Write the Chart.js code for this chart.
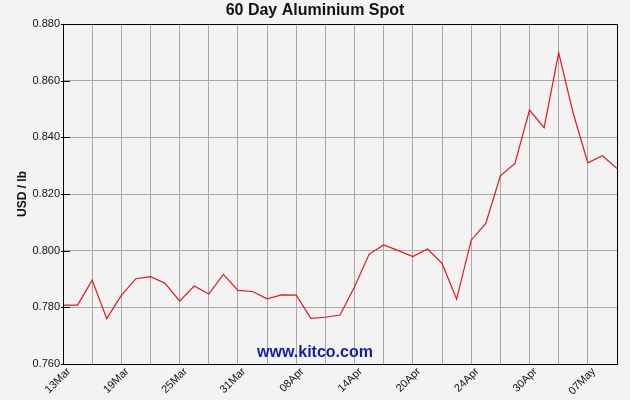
<!DOCTYPE html>
<html>
<head>
<meta charset="utf-8">
<script src="https://cdn.jsdelivr.net/npm/chart.js@4/dist/chart.umd.min.js"></script>
<style>
  html, body { margin: 0; padding: 0; background: #f4f3f3; }
  canvas { display: block; }
</style>
</head>
<body>
<canvas id="chart" width="630" height="400"></canvas>
<script>
// daily spot price, USD / lb (one point per trading day)
const prices = [
  0.7808, 0.7808, 0.7896, 0.7760, 0.7842, 0.7901, 0.7908, 0.7885, 0.7822, 0.7875,
  0.7847, 0.7916, 0.7860, 0.7856, 0.7830, 0.7844, 0.7843, 0.7761, 0.7765, 0.7773,
  0.7873, 0.7988, 0.8020, 0.8000, 0.7979, 0.8006, 0.7955, 0.7829, 0.8037, 0.8096,
  0.8264, 0.8308, 0.8496, 0.8434, 0.8698, 0.8484, 0.8310, 0.8335, 0.8290
];
// date labels, one every 4th trading day
const dateLabels = ['13Mar', '19Mar', '25Mar', '31Mar', '08Apr', '14Apr', '20Apr', '24Apr', '30Apr', '07May'];
const yTicks = [0.760, 0.780, 0.800, 0.820, 0.840, 0.860, 0.880];

const FONT = "'Liberation Sans', Arial, sans-serif";

// title, watermark, frame and the short inner ticks on the y axis
const decorations = {
  id: 'decorations',
  beforeDraw(chart) {
    const { ctx } = chart;
    ctx.save();
    ctx.fillStyle = '#f4f3f3';
    ctx.fillRect(0, 0, chart.width, chart.height);
    ctx.restore();
  },
  afterDraw(chart) {
    const { ctx, chartArea, scales } = chart;
    ctx.save();
    ctx.fillStyle = '#111';
    ctx.font = 'bold 16px ' + FONT;
    ctx.textAlign = 'center';
    ctx.textBaseline = 'middle';
    ctx.fillText('60 Day Aluminium Spot', chart.width / 2, 11);

    ctx.fillStyle = '#1a1aa8';
    ctx.font = 'bold 16px ' + FONT;
    ctx.fillText('www.kitco.com', chart.width / 2, 353);

    ctx.strokeStyle = '#000';
    ctx.lineWidth = 1;
    ctx.strokeRect(chartArea.left + 0.5, chartArea.top + 0.5,
      chartArea.right - chartArea.left, chartArea.bottom - chartArea.top);

    yTicks.forEach(v => {
      const y = Math.round(scales.y.getPixelForValue(v)) + 0.5;
      ctx.beginPath();
      ctx.moveTo(chartArea.left - 2, y);
      ctx.lineTo(chartArea.left + 7, y);
      ctx.stroke();
    });
    ctx.restore();
  }
};

new Chart(document.getElementById('chart'), {
  type: 'line',
  data: {
    datasets: [{
      data: prices.map((p, i) => ({ x: i, y: p })),
      borderColor: '#e8161c',
      borderWidth: 1.2,
      pointRadius: 0,
      tension: 0,
      fill: false
    }]
  },
  options: {
    responsive: false,
    animation: false,
    devicePixelRatio: 1,
    layout: { padding: { top: 24, right: 13, bottom: 0, left: 0 } },
    plugins: {
      legend: { display: false },
      title: { display: false },
      tooltip: { enabled: false }
    },
    scales: {
      x: {
        type: 'linear',
        min: 0,
        max: prices.length - 1,
        afterFit: s => { s.height = 36; },
        grid: { color: '#a8a8a8', lineWidth: 1, drawTicks: false },
        border: { display: true, color: '#000', width: 1 },
        ticks: {
          stepSize: 2,
          autoSkip: false,
          maxRotation: 45,
          minRotation: 45,
          padding: 1,
          labelOffset: 6,
          color: '#111',
          font: { family: FONT, size: 11 },
          callback: v => (v % 4 === 0 ? dateLabels[v / 4] : '')
        }
      },
      y: {
        min: 0.76,
        max: 0.88,
        afterFit: s => { s.width = 63; },
        grid: { color: '#a8a8a8', lineWidth: 1, drawTicks: false },
        border: { display: true, color: '#000', width: 1 },
        title: {
          display: true,
          text: 'USD / lb',
          color: '#111',
          font: { family: FONT, size: 12, weight: 'bold' },
          padding: { top: 15, bottom: 0 }
        },
        ticks: {
          stepSize: 0.02,
          padding: 3,
          color: '#111',
          font: { family: FONT, size: 11 },
          callback: v => v.toFixed(3)
        }
      }
    }
  },
  plugins: [decorations]
});
</script>
</body>
</html>
